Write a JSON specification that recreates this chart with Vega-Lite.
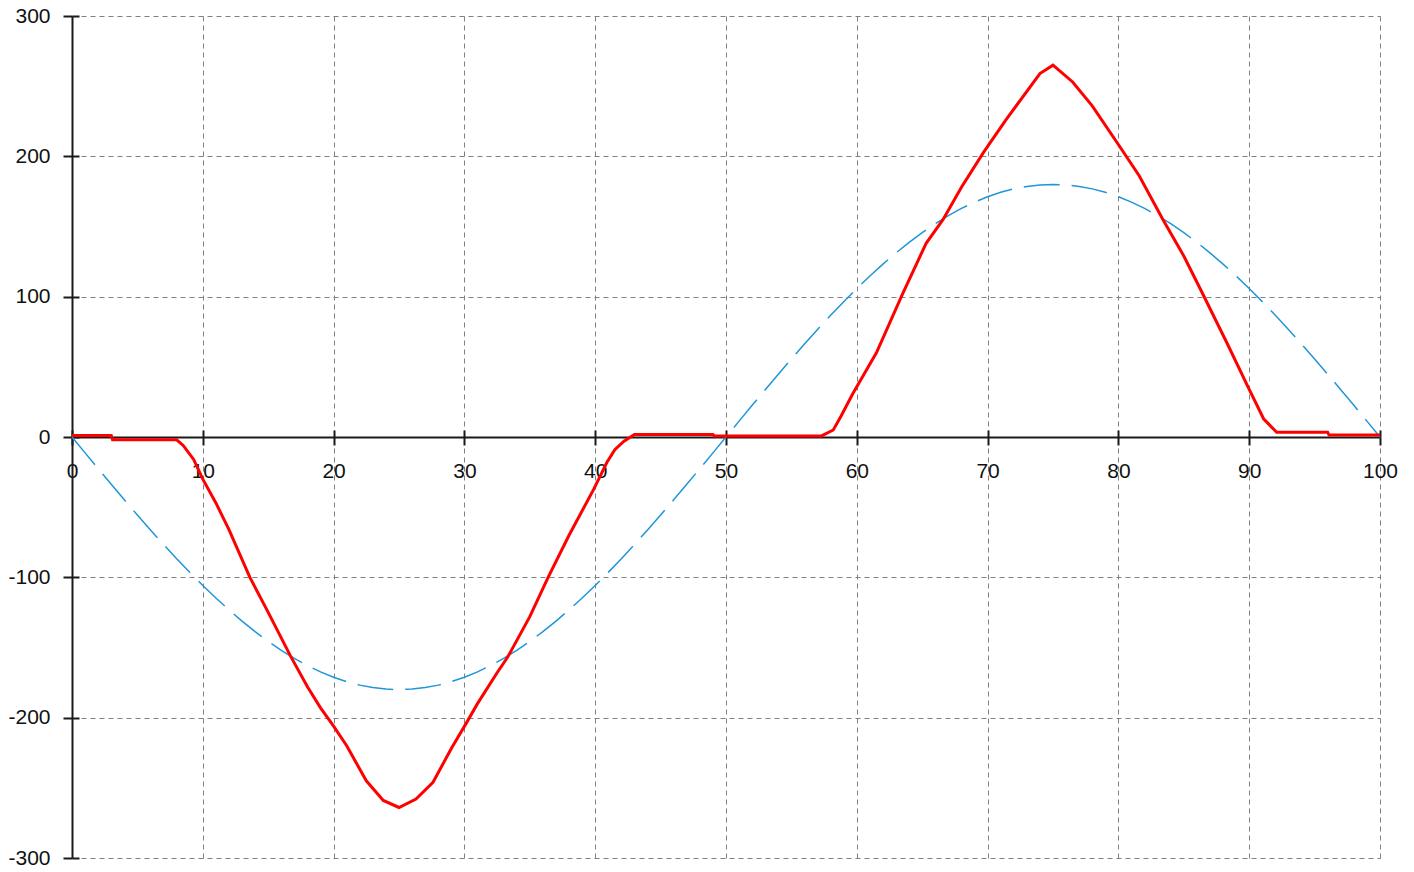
{
  "$schema": "https://vega.github.io/schema/vega-lite/v6.json",
  "autosize": {"type": "none"},
  "padding": {"left": 72, "top": 16, "right": 34, "bottom": 14},
  "width": 1308,
  "height": 842,
  "background": "white",
  "config": {
    "view": {"stroke": null},
    "axis": {"labelFont": "Liberation Sans", "labelFontSize": 21, "labelColor": "#111111", "title": null, "labelFlush": false, "labelOverlap": false}
  },
  "datasets": {
    "red": [
      {"x": 0, "y": 1}, {"x": 3, "y": 1}, {"x": 3.1, "y": -2}, {"x": 8, "y": -2}, {"x": 8.5, "y": -6},
      {"x": 9.3, "y": -16}, {"x": 10, "y": -30}, {"x": 11, "y": -47}, {"x": 12, "y": -66}, {"x": 13.6, "y": -100},
      {"x": 15, "y": -125}, {"x": 16.7, "y": -156}, {"x": 18, "y": -178}, {"x": 19, "y": -193}, {"x": 20, "y": -206},
      {"x": 21, "y": -220}, {"x": 22.5, "y": -245}, {"x": 23.8, "y": -259}, {"x": 25, "y": -264}, {"x": 26.3, "y": -258},
      {"x": 27.6, "y": -246}, {"x": 29, "y": -222}, {"x": 30.2, "y": -203}, {"x": 31, "y": -190}, {"x": 32.5, "y": -168},
      {"x": 33.3, "y": -157}, {"x": 35, "y": -128}, {"x": 36.4, "y": -100}, {"x": 38, "y": -70}, {"x": 39.9, "y": -37},
      {"x": 40.9, "y": -18}, {"x": 41.5, "y": -9}, {"x": 42.2, "y": -3}, {"x": 43, "y": 1.8}, {"x": 49, "y": 1.8},
      {"x": 49.1, "y": 0.8}, {"x": 57.3, "y": 0.8}, {"x": 58.2, "y": 5}, {"x": 58.8, "y": 15}, {"x": 59.7, "y": 31},
      {"x": 61.5, "y": 60}, {"x": 63.5, "y": 102}, {"x": 65.3, "y": 138}, {"x": 66.6, "y": 155}, {"x": 68, "y": 178},
      {"x": 69.7, "y": 203}, {"x": 71.4, "y": 226}, {"x": 74, "y": 259}, {"x": 75, "y": 265}, {"x": 76.5, "y": 253},
      {"x": 78, "y": 236}, {"x": 80.1, "y": 207}, {"x": 81.6, "y": 186}, {"x": 83.4, "y": 155}, {"x": 85, "y": 129},
      {"x": 86.5, "y": 101}, {"x": 88.3, "y": 67}, {"x": 90, "y": 34}, {"x": 91.1, "y": 13}, {"x": 92.1, "y": 3.3},
      {"x": 96, "y": 3.3}, {"x": 96.1, "y": 1.5}, {"x": 100, "y": 1.5}
    ],
    "blue": [
      {"x": 0, "y": 0}, {"x": 1, "y": -11.3}, {"x": 2, "y": -22.56}, {"x": 3, "y": -33.73}, {"x": 4, "y": -44.76},
      {"x": 5, "y": -55.62}, {"x": 6, "y": -66.26}, {"x": 7, "y": -76.64}, {"x": 8, "y": -86.71}, {"x": 9, "y": -96.45},
      {"x": 10, "y": -105.8}, {"x": 11, "y": -114.74}, {"x": 12, "y": -123.22}, {"x": 13, "y": -131.21}, {"x": 14, "y": -138.69},
      {"x": 15, "y": -145.62}, {"x": 16, "y": -151.98}, {"x": 17, "y": -157.74}, {"x": 18, "y": -162.87}, {"x": 19, "y": -167.36},
      {"x": 20, "y": -171.19}, {"x": 21, "y": -174.34}, {"x": 22, "y": -176.81}, {"x": 23, "y": -178.58}, {"x": 24, "y": -179.65},
      {"x": 25, "y": -180}, {"x": 26, "y": -179.65}, {"x": 27, "y": -178.58}, {"x": 28, "y": -176.81}, {"x": 29, "y": -174.34},
      {"x": 30, "y": -171.19}, {"x": 31, "y": -167.36}, {"x": 32, "y": -162.87}, {"x": 33, "y": -157.74}, {"x": 34, "y": -151.98},
      {"x": 35, "y": -145.62}, {"x": 36, "y": -138.69}, {"x": 37, "y": -131.21}, {"x": 38, "y": -123.22}, {"x": 39, "y": -114.74},
      {"x": 40, "y": -105.8}, {"x": 41, "y": -96.45}, {"x": 42, "y": -86.71}, {"x": 43, "y": -76.64}, {"x": 44, "y": -66.26},
      {"x": 45, "y": -55.62}, {"x": 46, "y": -44.76}, {"x": 47, "y": -33.73}, {"x": 48, "y": -22.56}, {"x": 49, "y": -11.3},
      {"x": 50, "y": 0}, {"x": 51, "y": 11.3}, {"x": 52, "y": 22.56}, {"x": 53, "y": 33.73}, {"x": 54, "y": 44.76},
      {"x": 55, "y": 55.62}, {"x": 56, "y": 66.26}, {"x": 57, "y": 76.64}, {"x": 58, "y": 86.71}, {"x": 59, "y": 96.45},
      {"x": 60, "y": 105.8}, {"x": 61, "y": 114.74}, {"x": 62, "y": 123.22}, {"x": 63, "y": 131.21}, {"x": 64, "y": 138.69},
      {"x": 65, "y": 145.62}, {"x": 66, "y": 151.98}, {"x": 67, "y": 157.74}, {"x": 68, "y": 162.87}, {"x": 69, "y": 167.36},
      {"x": 70, "y": 171.19}, {"x": 71, "y": 174.34}, {"x": 72, "y": 176.81}, {"x": 73, "y": 178.58}, {"x": 74, "y": 179.65},
      {"x": 75, "y": 180}, {"x": 76, "y": 179.65}, {"x": 77, "y": 178.58}, {"x": 78, "y": 176.81}, {"x": 79, "y": 174.34},
      {"x": 80, "y": 171.19}, {"x": 81, "y": 167.36}, {"x": 82, "y": 162.87}, {"x": 83, "y": 157.74}, {"x": 84, "y": 151.98},
      {"x": 85, "y": 145.62}, {"x": 86, "y": 138.69}, {"x": 87, "y": 131.21}, {"x": 88, "y": 123.22}, {"x": 89, "y": 114.74},
      {"x": 90, "y": 105.8}, {"x": 91, "y": 96.45}, {"x": 92, "y": 86.71}, {"x": 93, "y": 76.64}, {"x": 94, "y": 66.26},
      {"x": 95, "y": 55.62}, {"x": 96, "y": 44.76}, {"x": 97, "y": 33.73}, {"x": 98, "y": 22.56}, {"x": 99, "y": 11.3},
      {"x": 100, "y": 0}
    ]
  },
  "resolve": {"axis": {"x": "independent", "y": "independent"}},
  "layer": [
    {
      "data": {"name": "blue"},
      "mark": {"type": "line", "color": "#1e96d8", "strokeWidth": 1.5, "strokeDash": [36, 12]},
      "encoding": {
        "x": {"field": "x", "type": "quantitative", "scale": {"domain": [0, 100], "nice": false, "zero": false},
          "axis": {"orient": "bottom", "offset": -421, "values": [0, 10, 20, 30, 40, 50, 60, 70, 80, 90, 100],
            "domainColor": "#1a1a1a", "domainWidth": 2, "tickColor": "#1a1a1a", "tickWidth": 2, "tickSize": 8,
            "labelPadding": 15, "labelExpr": "'' + datum.value",
            "grid": true, "gridColor": "#808080", "gridDash": [5, 4], "gridWidth": 1}},
        "y": {"field": "y", "type": "quantitative", "scale": {"domain": [-300, 300], "nice": false, "zero": false},
          "axis": {"orient": "left", "values": [-300, -200, -100, 0, 100, 200, 300],
            "domainColor": "#1a1a1a", "domainWidth": 2, "tickColor": "#1a1a1a", "tickWidth": 2, "tickSize": 9,
            "labelPadding": 13, "labelExpr": "'' + datum.value",
            "grid": true, "gridColor": "#808080", "gridDash": [5, 4], "gridWidth": 1}}
      }
    },
    {
      "data": {"name": "red"},
      "mark": {"type": "line", "color": "#ff0000", "strokeWidth": 3},
      "encoding": {
        "x": {"field": "x", "type": "quantitative", "scale": {"domain": [0, 100], "nice": false, "zero": false},
          "axis": {"orient": "top", "offset": -421, "values": [0, 10, 20, 30, 40, 50, 60, 70, 80, 90, 100],
            "domain": false, "labels": false, "grid": false, "tickColor": "#1a1a1a", "tickWidth": 2, "tickSize": 7}},
        "y": {"field": "y", "type": "quantitative", "scale": {"domain": [-300, 300], "nice": false, "zero": false},
          "axis": {"orient": "right", "offset": -1308, "values": [-300, -200, -100, 0, 100, 200, 300],
            "domain": false, "labels": false, "grid": false, "tickColor": "#1a1a1a", "tickWidth": 2, "tickSize": 7}}
      }
    }
  ]
}
